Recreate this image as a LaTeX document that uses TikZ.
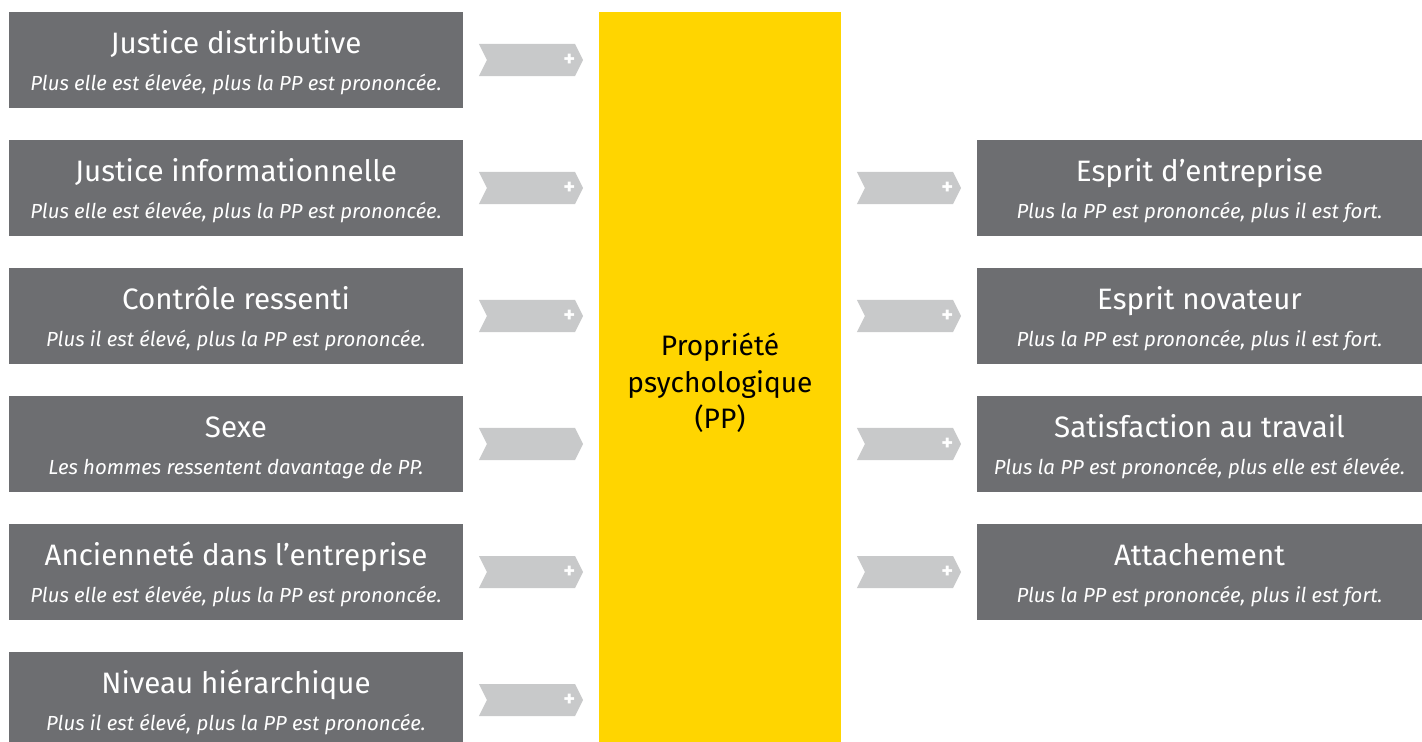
\documentclass[tikz,border=0pt]{standalone}
\usepackage{fontspec}
\setmainfont{Fira Sans}
\usepackage{tikz}
\usetikzlibrary{shapes.symbols, positioning}
\definecolor{boxgray}{RGB}{109,110,113}
\definecolor{arrowgray}{RGB}{200,201,202}
\definecolor{ppyellow}{RGB}{255,213,0}
\tikzset{
 factor/.style={rectangle, fill=boxgray, minimum width=11.35cm, minimum height=2.4cm, inner sep=0pt},
 effect/.style={factor, minimum width=11.125cm},
 title/.style={anchor=base, text=white, inner sep=0pt, font=\fontsize{21}{22}\selectfont},
 subtitle/.style={anchor=base, text=white, inner sep=0pt, font=\fontsize{14.5}{16}\selectfont\itshape},
 chevron/.style={signal, signal to=east, signal from=west, signal pointer angle=127, fill=arrowgray, minimum width=2.6cm, minimum height=0.8cm, inner sep=0pt},
 plus/.style={text=white, font=\fontsize{16}{16}\selectfont\bfseries, inner sep=0pt}
}
% box texts: name, title, subtitle
\newcommand*{\boxtexts}[3]{%
 \node[title] (#1-t) at ([yshift=0.16cm]#1.center) {#2};
 \node[subtitle] (#1-s) at ([yshift=-0.75cm]#1.center) {#3};}

\begin{document}
\begin{tikzpicture}[x=0.025cm, y=-0.025cm]
 \useasboundingbox (0,0) rectangle (1422,742);
 \clip (0,0) rectangle (1422,742);
 % centre
 \node[rectangle, fill=ppyellow, minimum width=6.05cm, minimum height=18.25cm, inner sep=0pt] (pp) at (720,377) {};
 \node[align=center, font=\fontsize{20}{26}\selectfont] (pplabel) at (720,383) {Propriété\\psychologique\\(PP)};
 % antecedents
 \node[factor] (jd) at (236,60) {};
 \node[factor] (ji) at (236,188) {};
 \node[factor] (cr) at (236,316) {};
 \node[factor] (sx) at (236,444) {};
 \node[factor] (an) at (236,572) {};
 \node[factor] (nh) at (236,700) {};
 \boxtexts{jd}{Justice distributive}{Plus elle est élevée, plus la PP est prononcée.}
 \boxtexts{ji}{Justice informationnelle}{Plus elle est élevée, plus la PP est prononcée.}
 \boxtexts{cr}{Contrôle ressenti}{Plus il est élevé, plus la PP est prononcée.}
 \boxtexts{sx}{Sexe}{Les hommes ressentent davantage de PP.}
 \boxtexts{an}{Ancienneté dans l’entreprise}{Plus elle est élevée, plus la PP est prononcée.}
 \boxtexts{nh}{Niveau hiérarchique}{Plus il est élevé, plus la PP est prononcée.}
 % consequences
 \node[effect] (ee) at (1199.5,188) {};
 \node[effect] (en) at (1199.5,316) {};
 \node[effect] (st) at (1199.5,444) {};
 \node[effect] (at) at (1199.5,572) {};
 \boxtexts{ee}{Esprit d'entreprise}{Plus la PP est prononcée, plus il est fort.}
 \boxtexts{en}{Esprit novateur}{Plus la PP est prononcée, plus il est fort.}
 \boxtexts{st}{Satisfaction au travail}{Plus la PP est prononcée, plus elle est élevée.}
 \boxtexts{at}{Attachement}{Plus la PP est prononcée, plus il est fort.}
 % chevrons
 \foreach \n/\y in {jd/60, ji/188, cr/316, an/572, nh/700} {
  \node[chevron] (a\n) at (531,\y) {};
  \node[plus] at ([xshift=-0.35cm]a\n.east) {+};
 }
 \node[chevron] (asx) at (531,444) {};
 \foreach \n/\y in {ee/188, en/316, st/444, at/572} {
  \node[chevron] (a\n) at (909,\y) {};
  \node[plus] at ([xshift=-0.35cm]a\n.east) {+};
 }
\end{tikzpicture}
\end{document}
